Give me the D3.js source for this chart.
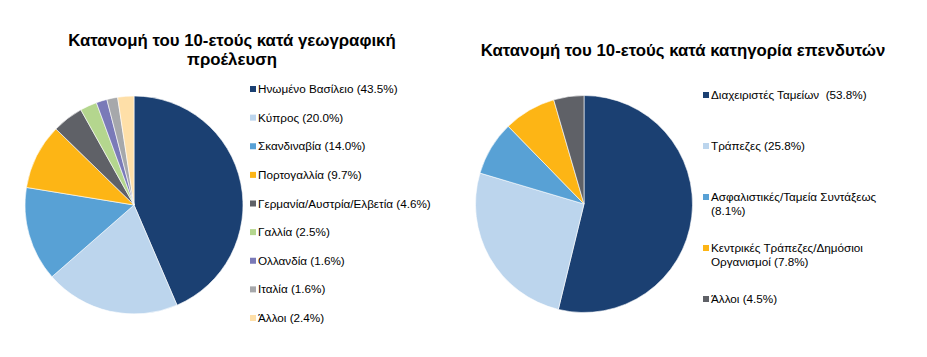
<!DOCTYPE html>
<html><head><meta charset="utf-8">
<script src="https://cdn.jsdelivr.net/npm/d3@7/dist/d3.min.js"></script>
<style>
body{margin:0;background:#fff;}
svg{display:block;font-family:Arial,"Liberation Sans",sans-serif;}
</style></head>
<body><svg id="c" width="927" height="357"></svg>
<script>
const geoCategories = ["Ηνωμένο Βασίλειο","Κύπρος","Σκανδιναβία","Πορτογαλλία","Γερμανία/Αυστρία/Ελβετία","Γαλλία","Ολλανδία","Ιταλία","Άλλοι"];
const geoValues = [43.5,20.0,14.0,9.7,4.6,2.5,1.6,1.6,2.4];
const geoColors = ["#1b4072","#bcd5ed","#58a1d5","#fdb515","#5f6167","#b4d68e","#7a7ab8","#a6a8ab","#fedfa8"];

const invCategories = [["Διαχειριστές Ταμείων  "],["Τράπεζες "],["Ασφαλιστικές/Ταμεία Συντάξεως",""],["Κεντρικές Τράπεζες/Δημόσιοι","Οργανισμοί "],["Άλλοι "]];
const invValues = [53.8,25.8,8.1,7.8,4.5];
const invColors = ["#1b4072","#bcd5ed","#58a1d5","#fdb515","#5f6167"];

const titles = [["Κατανομή του 10-ετούς κατά γεωγραφική","προέλευση"],["Κατανομή του 10-ετούς κατά κατηγορία επενδυτών"]];

const svg = d3.select("#c");

function drawPie(cx, cy, r, values, colors){
  const pie = d3.pie().sort(null).value(d=>d);
  const arc = d3.arc().innerRadius(0).outerRadius(r);
  const g = svg.append("g").attr("transform",`translate(${cx},${cy})`);
  g.selectAll("path").data(pie(values)).join("path")
    .attr("d",arc).attr("fill",(d,i)=>colors[i])
    .attr("stroke","#fff").attr("stroke-width",0.6);
}

function drawTitle(lines, cx, y0){
  const t = svg.append("text").attr("text-anchor","middle")
    .attr("font-size",16.8).attr("font-weight","bold").attr("fill","#000");
  lines.forEach((l,i)=>t.append("tspan").attr("x",cx).attr("y",y0+i*18.5).text(l));
}

drawTitle(titles[0], 232, 46);
drawTitle(titles[1], 683, 56);

drawPie(134, 205, 109, geoValues, geoColors);
drawPie(584, 204, 108.5, invValues, invColors);

// legend 1
const y1 = d3.scalePoint().domain(d3.range(geoCategories.length)).range([89, 318]);
const lg1 = svg.append("g");
geoCategories.forEach((c,i)=>{
  const y = y1(i);
  lg1.append("rect").attr("x",250).attr("y",y-3).attr("width",6).attr("height",6).attr("fill",geoColors[i]);
  lg1.append("text").attr("x",258).attr("y",y+4).attr("font-size",11.7).attr("fill","#000")
    .text(`${c} (${geoValues[i].toFixed(1)}%)`);
});

// legend 2
const y2 = d3.scalePoint().domain(d3.range(invCategories.length)).range([95, 299]);
const lg2 = svg.append("g");
invCategories.forEach((lines,i)=>{
  const y = y2(i);
  lg2.append("rect").attr("x",703).attr("y",y-3).attr("width",6).attr("height",6).attr("fill",invColors[i]);
  const t = lg2.append("text").attr("font-size",11.7).attr("fill","#000").style("white-space","pre");
  lines.forEach((l,j)=>{
    const last = j===lines.length-1;
    t.append("tspan").attr("x",711).attr("y",y+4+j*13.5)
      .text(last ? `${l}(${invValues[i].toFixed(1)}%)` : l);
  });
});
</script></body></html>
